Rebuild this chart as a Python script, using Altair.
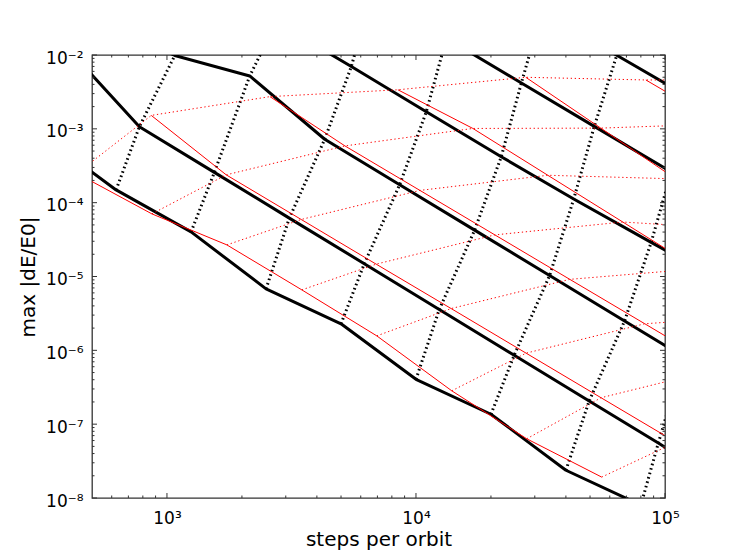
import math
import altair as alt
import pandas as pd

# ---------------- black curves (thick solid); dotted lines join equal-index points ----------------
black_x = [
    [312.5, 625, 1250, 2500, 5000, 10000, 20000, 40000, 80000],
    [387.5, 775, 1550, 3100, 6200, 12400, 24800, 49600, 94000, 198400],
    [537.5, 1075, 2150, 4300, 8600, 17200, 34400, 68800, 118900],
    [1375, 2750, 5500, 11000, 22000, 43000, 88000, 176000],
    [3312, 6625, 13250, 26500, 52000, 106000],
    [16000, 32000, 64000, 128000],
]
black_y = [
    [8.31e-4, 1.488e-4, 4.02e-5, 6.80e-6, 2.286e-6, 4.05e-7, 1.362e-7, 2.377e-8, 8.01e-9],
    [1.37e-2, 1.07e-3, 2.57e-4, 6.18e-5, 1.49e-5, 3.57e-6, 8.59e-7, 2.06e-7, 5.55e-8, 1.19e-8],
    [3.0e-2, 9.85e-3, 5.20e-3, 7.23e-4, 1.752e-4, 4.25e-5, 1.03e-5, 2.50e-6, 8.17e-7],
    [0.115, 2.8e-2, 6.97e-3, 1.70e-3, 4.19e-4, 1.12e-4, 2.90e-5, 7.9e-6],
    [0.27, 6.7e-2, 1.68e-2, 4.18e-3, 1.08e-3, 2.60e-4],
    [0.149, 3.85e-2, 9.9e-3, 2.55e-3],
]
black_first_index = [0, 0, 0, 1, 2, 4]

# ---------------- red curves (thin solid); dotted lines join equal-index points ----------------
red_x = [
    [435, 870, 1740, 3480, 6960, 13920, 27840, 55680],
    [865, 1730, 3460, 6920, 13840, 27680, 55360, 110720],
    [2592, 5184, 10370, 20740, 41470, 82940, 165900],
    [8460, 16920, 33840, 67680, 135400, 270700],
    [27600, 55200, 110400, 220800],
    [83800, 167600],
    [250000],
]
red_y = [
    [2.49e-4, 7.05e-5, 2.68e-5, 6.59e-6, 1.57e-6, 2.83e-7, 6.34e-8, 1.92e-8],
    [1.52e-3, 2.38e-4, 5.92e-5, 1.47e-5, 3.68e-6, 9.16e-7, 2.28e-7, 5.70e-8],
    [2.73e-3, 5.87e-4, 1.466e-4, 3.66e-5, 9.15e-6, 2.29e-6, 5.71e-7],
    [3.38e-3, 1.012e-3, 2.35e-4, 5.47e-5, 1.273e-5, 3.02e-6],
    [4.99e-3, 1.023e-3, 2.10e-4, 4.29e-5],
    [4.59e-3, 1.164e-3],
    [4.59e-3],
]

# ---------------- axes ----------------
x_domain = [500, 100000]
y_domain = [1e-8, 1e-2]
x_tick_values = [1000, 10000, 100000]
x_tick_labels = ["10³", "10⁴", "10⁵"]
y_tick_values = [1e-8, 1e-7, 1e-6, 1e-5, 1e-4, 1e-3, 1e-2]
y_tick_labels = ["10⁻⁸", "10⁻⁷", "10⁻⁶", "10⁻⁵", "10⁻⁴", "10⁻³", "10⁻²"]
x_minor_values = [600, 700, 800, 900] + [k * 1000 for k in range(2, 10)] + [k * 10000 for k in range(2, 10)]
y_minor_values = [k * 10.0 ** e for e in range(-8, -2) for k in range(2, 10)]

rows = []
for i, (xs, ys) in enumerate(zip(black_x, black_y)):
    for k, (xv, yv) in enumerate(zip(xs, ys)):
        rows.append({"kind": "black", "line": i, "idx": black_first_index[i] + k, "x": xv, "y": yv})
for i, (xs, ys) in enumerate(zip(red_x, red_y)):
    for k, (xv, yv) in enumerate(zip(xs, ys)):
        rows.append({"kind": "red", "line": i, "idx": k, "x": xv, "y": yv})
df = pd.DataFrame(rows)

W, H = 573, 443
FONT = "DejaVu Sans"


def label_expr(values, labels):
    expr = "''"
    for v, lab in zip(values, labels):
        e = round(math.log10(v))
        expr = f"round(log(datum.value)/LN10) == {e} ? '{lab}' : ({expr})"
    return expr


xscale = alt.Scale(type="log", domain=x_domain, nice=False)
yscale = alt.Scale(type="log", domain=y_domain, nice=False)

x_axis = alt.Axis(
    values=x_tick_values, labelExpr=label_expr(x_tick_values, x_tick_labels),
    ticks=False, domain=False, grid=False, labelFlush=False, labelOverlap=False,
    labelFont=FONT, labelFontSize=17, labelColor="black", labelPadding=12,
    title="steps per orbit", titleFont=FONT, titleFontSize=20, titleFontWeight="normal",
    titleColor="black", titleBaseline="alphabetic", titleY=47,
)
y_axis = alt.Axis(
    values=y_tick_values, labelExpr=label_expr(y_tick_values, y_tick_labels),
    ticks=False, domain=False, grid=False, labelFlush=False, labelOverlap=False,
    labelFont=FONT, labelFontSize=17, labelColor="black", labelPadding=9, labelOffset=3,
    title="max |dE/E0|", titleFont=FONT, titleFontSize=20, titleFontWeight="normal",
    titleColor="black", titleBaseline="alphabetic", titleX=-58, titleY=H / 2,
)

X = alt.X("x:Q", scale=xscale, axis=x_axis)
Y = alt.Y("y:Q", scale=yscale, axis=y_axis)

base = alt.Chart(df)
black = base.transform_filter(alt.datum.kind == "black")
red = base.transform_filter(alt.datum.kind == "red")

black_solid = black.mark_line(clip=True, color="black", strokeWidth=3, strokeJoin="round").encode(
    x=X, y=Y, detail="line:N", order="idx:Q")
black_dotted = black.mark_line(clip=True, color="black", strokeWidth=3, strokeDash=[1.6, 3.0]).encode(
    x=X, y=Y, detail="idx:N", order="line:Q")
red_solid = red.mark_line(clip=True, color="#ff0000", strokeWidth=1).encode(
    x=X, y=Y, detail="line:N", order="idx:Q")
red_dotted = red.mark_line(clip=True, color="#ff0000", strokeWidth=1, strokeDash=[1.3, 2.7]).encode(
    x=X, y=Y, detail="idx:N", order="line:Q")

tick_color = "#333333"
xmaj = alt.Chart(pd.DataFrame({"x": x_tick_values}))
xmin = alt.Chart(pd.DataFrame({"x": x_minor_values}))
ymaj = alt.Chart(pd.DataFrame({"y": y_tick_values}))
ymin = alt.Chart(pd.DataFrame({"y": y_minor_values}))
tick_layers = [
    xmaj.mark_rule(color=tick_color, strokeWidth=1).encode(x=X, y=alt.value(H), y2=alt.value(H - 5)),
    xmaj.mark_rule(color=tick_color, strokeWidth=1).encode(x=X, y=alt.value(0), y2=alt.value(5)),
    xmin.mark_rule(color=tick_color, strokeWidth=1).encode(x=X, y=alt.value(H), y2=alt.value(H - 2.5)),
    xmin.mark_rule(color=tick_color, strokeWidth=1).encode(x=X, y=alt.value(0), y2=alt.value(2.5)),
    ymaj.mark_rule(color=tick_color, strokeWidth=1).encode(y=Y, x=alt.value(0), x2=alt.value(5)),
    ymaj.mark_rule(color=tick_color, strokeWidth=1).encode(y=Y, x=alt.value(W), x2=alt.value(W - 5)),
    ymin.mark_rule(color=tick_color, strokeWidth=1).encode(y=Y, x=alt.value(0), x2=alt.value(2.5)),
    ymin.mark_rule(color=tick_color, strokeWidth=1).encode(y=Y, x=alt.value(W), x2=alt.value(W - 2.5)),
]

chart = alt.layer(black_solid, black_dotted, red_solid, red_dotted, *tick_layers).properties(
    width=W, height=H,
    autosize=alt.AutoSizeParams(type="none"),
    padding={"left": 84, "top": 47, "right": 66, "bottom": 56},
    background="white",
).configure_view(stroke="#333333", strokeWidth=1.3)

chart.save("out.html", embed_options={"renderer": "svg", "actions": False})
